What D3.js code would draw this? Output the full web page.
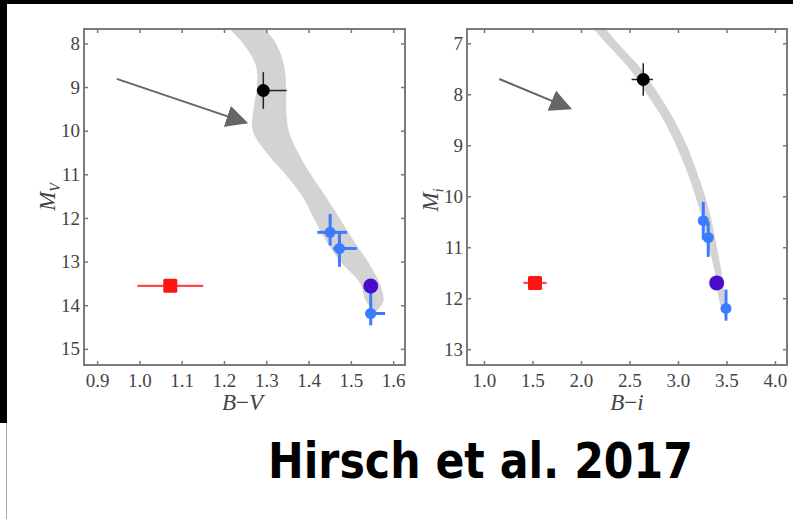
<html>
<head>
<script src="https://d3js.org/d3.v7.min.js"></script>
<style>
body { margin: 0; background: #fff; }
.tick line { stroke: #777; stroke-width: 1.5; }
.domain { display: none; }
</style>
</head>
<body>
<svg id="all" width="793" height="519"></svg>
<script>
const serif = "'Liberation Serif', 'Times New Roman', Times, serif";

// ---- left panel: B-V vs M_V ----
const bvTicks = [0.9, 1.0, 1.1, 1.2, 1.3, 1.4, 1.5, 1.6];
const mvTicks = [8, 9, 10, 11, 12, 13, 14, 15];
const bvBandMag = [7.5, 8.0, 8.5, 9.0, 9.5, 10.0, 10.5, 11.0, 11.5, 12.0, 12.5, 13.0, 13.5, 13.9, 14.15];
const bvBandLo  = [1.195, 1.245, 1.275, 1.278, 1.270, 1.268, 1.300, 1.345, 1.385, 1.412, 1.440, 1.475, 1.522, 1.535, 1.556];
const bvBandHi  = [1.282, 1.323, 1.342, 1.347, 1.347, 1.353, 1.375, 1.405, 1.440, 1.473, 1.505, 1.540, 1.568, 1.577, 1.560];
// star: kind, colour, mag, err (-/+ colour), err (-/+ mag)
const bvStars = [
  {kind: "black",  x: 1.293, y: 9.08,  xe: [0.01, 0.055],  ye: [0.42, 0.42]},
  {kind: "blue",   x: 1.451, y: 12.33, xe: [0.03, 0.04],   ye: [0.42, 0.3]},
  {kind: "blue",   x: 1.473, y: 12.70, xe: [0.015, 0.041], ye: [0.38, 0.42]},
  {kind: "blue",   x: 1.547, y: 14.19, xe: [0.013, 0.034], ye: [0.6, 0.27]},
  {kind: "purple", x: 1.547, y: 13.56, xe: [0, 0],         ye: [0, 0]},
  {kind: "red",    x: 1.073, y: 13.555, xe: [0.078, 0.078], ye: [0.05, 0.05]}
];
const bvArrow = [[0.9466, 8.814], [1.2522, 9.816]];

// ---- right panel: B-i vs M_i ----
const biTicks = [1.0, 1.5, 2.0, 2.5, 3.0, 3.5, 4.0];
const miTicks = [7, 8, 9, 10, 11, 12, 13];
const biBandMag = [6.5, 7.0, 7.5, 8.0, 8.5, 9.0, 9.5, 10.0, 10.5, 11.0, 11.5, 12.0, 12.15];
const biBandLo  = [2.03, 2.26, 2.50, 2.68, 2.85, 2.98, 3.09, 3.18, 3.26, 3.32, 3.38, 3.42, 3.44];
const biBandHi  = [2.16, 2.38, 2.62, 2.80, 2.96, 3.09, 3.19, 3.28, 3.35, 3.40, 3.45, 3.48, 3.47];
const biStars = [
  {kind: "black",  x: 2.642, y: 7.71,  xe: [0.12, 0.1],  ye: [0.32, 0.32]},
  {kind: "blue",   x: 3.261, y: 10.48, xe: [0.04, 0.04], ye: [0.37, 0.37]},
  {kind: "blue",   x: 3.312, y: 10.81, xe: [0.04, 0.04], ye: [0.31, 0.38]},
  {kind: "blue",   x: 3.495, y: 12.20, xe: [0.04, 0.04], ye: [0.37, 0.24]},
  {kind: "purple", x: 3.399, y: 11.70, xe: [0, 0],       ye: [0, 0]},
  {kind: "red",    x: 1.526, y: 11.70, xe: [0.12, 0.12], ye: [0.1, 0.1]}
];
const biArrow = [[1.158, 7.70], [1.887, 8.276]];

const styles = {
  black:  {fill: "#000",    bar: "#222",    bw: 1.5, r: 6.5},
  blue:   {fill: "#3a7bff", bar: "#3a7bff", bw: 3,   r: 5.5},
  purple: {fill: "#4a0ccc", bar: "#4a0ccc", bw: 0,   r: 7.5},
  red:    {fill: "#ff1414", bar: "#ff4a4a", bw: 2.2, r: 7}
};

const svg = d3.select("svg#all");

// black frame edges of the cut-out picture
svg.append("rect").attr("x", 0).attr("y", 0).attr("width", 793).attr("height", 4).attr("fill", "#000");
svg.append("rect").attr("x", 0).attr("y", 0).attr("width", 7).attr("height", 423).attr("fill", "#000");
svg.append("line").attr("x1", 6.5).attr("x2", 6.5).attr("y1", 423).attr("y2", 519)
   .attr("stroke", "#aaa").attr("stroke-width", 1);

const defs = svg.append("defs");
defs.append("marker").attr("id", "head")
    .attr("viewBox", "0 0 10 10").attr("refX", 9).attr("refY", 5)
    .attr("markerWidth", 22).attr("markerHeight", 22)
    .attr("markerUnits", "userSpaceOnUse")
    .attr("orient", "auto")
  .append("path").attr("d", "M0,0 L10,5 L0,10 Z").attr("fill", "#666");

function drawPanel(p) {
  const x = d3.scaleLinear().domain(p.xdom).range([p.left, p.right]);
  const y = d3.scaleLinear().domain(p.ydom).range([p.top, p.bottom]);
  const g = svg.append("g");

  defs.append("clipPath").attr("id", p.id + "clip")
    .append("rect").attr("x", p.left).attr("y", p.top)
    .attr("width", p.right - p.left).attr("height", p.bottom - p.top);

  // grey isochrone band
  const band = p.bandMag.map((m, i) => ({m: m, lo: p.bandLo[i], hi: p.bandHi[i]}));
  g.append("path")
    .datum(band)
    .attr("clip-path", `url(#${p.id}clip)`)
    .attr("fill", "#d3d3d3")
    .attr("d", d3.area().curve(d3.curveCatmullRom)
      .y(d => y(d.m)).x0(d => x(d.lo)).x1(d => x(d.hi)));

  // axes, ticks pointing inwards on all four sides
  const axes = [
    g.append("g").attr("transform", `translate(0,${p.bottom})`)
      .call(d3.axisBottom(x).tickValues(p.xticks).tickFormat(d3.format(".1f"))
        .tickSizeInner(-4).tickSizeOuter(0).tickPadding(9)),
    g.append("g").attr("transform", `translate(0,${p.top})`)
      .call(d3.axisTop(x).tickValues(p.xticks).tickFormat("")
        .tickSizeInner(-4).tickSizeOuter(0)),
    g.append("g").attr("transform", `translate(${p.left},0)`)
      .call(d3.axisLeft(y).tickValues(p.yticks).tickFormat(d3.format("d"))
        .tickSizeInner(-4).tickSizeOuter(0).tickPadding(4)),
    g.append("g").attr("transform", `translate(${p.right},0)`)
      .call(d3.axisRight(y).tickValues(p.yticks).tickFormat("")
        .tickSizeInner(-4).tickSizeOuter(0))
  ];
  axes.forEach(a => a.attr("font-family", serif).attr("font-size", 19)
    .selectAll("text").attr("fill", "#444"));

  g.append("rect")
    .attr("x", p.left).attr("y", p.top)
    .attr("width", p.right - p.left).attr("height", p.bottom - p.top)
    .attr("fill", "none").attr("stroke", "#7a7a7a").attr("stroke-width", 2);

  // arrow
  g.append("line")
    .attr("x1", x(p.arrow[0][0])).attr("y1", y(p.arrow[0][1]))
    .attr("x2", x(p.arrow[1][0])).attr("y2", y(p.arrow[1][1]))
    .attr("stroke", "#666").attr("stroke-width", 2)
    .attr("marker-end", "url(#head)");

  // error bars
  const stars = g.selectAll("g.star").data(p.stars).join("g").attr("class", "star");
  stars.filter(d => d.xe[0] + d.xe[1] > 0).append("line")
    .attr("x1", d => x(d.x - d.xe[0])).attr("x2", d => x(d.x + d.xe[1]))
    .attr("y1", d => y(d.y)).attr("y2", d => y(d.y))
    .attr("stroke", d => styles[d.kind].bar).attr("stroke-width", d => styles[d.kind].bw);
  stars.filter(d => d.ye[0] + d.ye[1] > 0).append("line")
    .attr("x1", d => x(d.x)).attr("x2", d => x(d.x))
    .attr("y1", d => y(d.y - d.ye[0])).attr("y2", d => y(d.y + d.ye[1]))
    .attr("stroke", d => styles[d.kind].bar).attr("stroke-width", d => styles[d.kind].bw);

  // markers
  stars.filter(d => d.kind !== "red").append("circle")
    .attr("cx", d => x(d.x)).attr("cy", d => y(d.y))
    .attr("r", d => styles[d.kind].r)
    .attr("fill", d => styles[d.kind].fill);
  stars.filter(d => d.kind === "red").append("rect")
    .attr("x", d => x(d.x) - 7).attr("y", d => y(d.y) - 7)
    .attr("width", 14).attr("height", 14).attr("rx", 1.5)
    .attr("fill", d => styles[d.kind].fill);

  // axis titles
  const xt = g.append("text")
    .attr("x", (p.left + p.right) / 2 + p.xtShift).attr("y", p.bottom + 45)
    .attr("text-anchor", "middle")
    .attr("font-family", serif).attr("font-style", "italic")
    .attr("font-size", 23).attr("fill", "#444");
  xt.append("tspan").text(p.xname[0]);
  xt.append("tspan").attr("font-style", "normal").text("\u2212");
  xt.append("tspan").text(p.xname[1]);

  const yt = g.append("text")
    .attr("transform", `translate(${p.ytX},${p.ytY}) rotate(-90)`)
    .attr("text-anchor", "middle")
    .attr("font-family", serif).attr("font-style", "italic")
    .attr("font-size", 23).attr("fill", "#444");
  yt.append("tspan").text("M");
  yt.append("tspan").attr("dy", 5).attr("font-size", 14).text(p.ysub);
}

drawPanel({
  id: "bv", left: 84, right: 405, top: 29, bottom: 365,
  xdom: [0.869, 1.628], ydom: [7.67, 15.37],
  xticks: bvTicks, yticks: mvTicks,
  bandMag: bvBandMag, bandLo: bvBandLo, bandHi: bvBandHi,
  stars: bvStars, arrow: bvArrow,
  xname: ["B", "V"], ysub: "V", xtShift: -2, ytX: 55, ytY: 197
});

drawPanel({
  id: "bi", left: 467, right: 787, top: 29, bottom: 365,
  xdom: [0.825, 4.124], ydom: [6.72, 13.31],
  xticks: biTicks, yticks: miTicks,
  bandMag: biBandMag, bandLo: biBandLo, bandHi: biBandHi,
  stars: biStars, arrow: biArrow,
  xname: ["B", "i"], ysub: "i", xtShift: 0, ytX: 438, ytY: 200
});

svg.append("text")
  .attr("x", 268).attr("y", 478)
  .attr("textLength", 425).attr("lengthAdjust", "spacingAndGlyphs")
  .attr("font-family", "'DejaVu Sans', sans-serif").attr("font-weight", "bold")
  .attr("font-size", 50).attr("fill", "#000")
  .text("Hirsch et al. 2017");
</script>
</body>
</html>
